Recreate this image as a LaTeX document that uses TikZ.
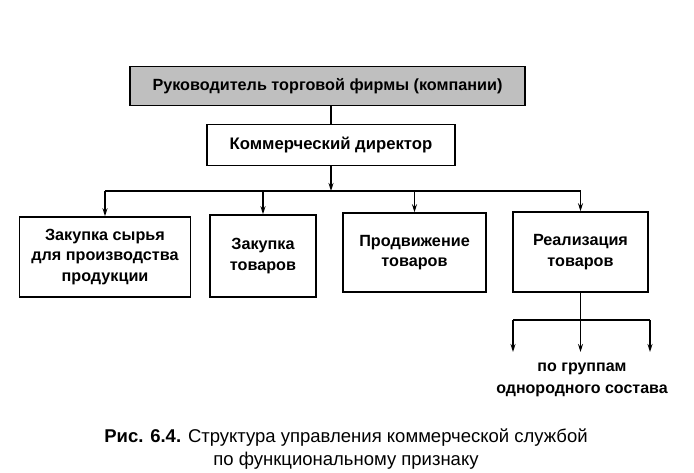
\documentclass[tikz,border=0pt]{standalone}
\usepackage{fontspec}
\setmainfont{Liberation Sans}
\usetikzlibrary{arrows.meta}
\begin{document}
\begin{tikzpicture}[x=1pt,y=-1pt,
  every node/.style={inner sep=0pt},
  boxbase/.style={draw=black,line width=1.5pt,align=center,font=\bfseries\fontsize{16.2}{20.5}\selectfont},
  topbox/.style={boxbase,fill=gray!50,minimum width=395pt,minimum height=39pt,font=\bfseries\fontsize{16.2}{19}\selectfont},
  dirbox/.style={boxbase,fill=white,minimum width=248pt,minimum height=41pt,font=\bfseries\fontsize{16.7}{19}\selectfont},
  unitbox/.style={boxbase,fill=white},
  conn/.style={line width=1.3pt},
  arr/.style={conn,-{Stealth[length=8pt,width=5pt]}},
  grouptext/.style={align=center,font=\bfseries\fontsize{16}{22}\selectfont},
  captext/.style={align=center,font=\fontsize{18.5}{23}\selectfont}
]
\useasboundingbox (0,0) rectangle (694,472);
\node[topbox] (top) at (327.5,86) {Руководитель торговой фирмы (компании)};
\node[dirbox] (dir) at (331,145) {Коммерческий директор};
\node[unitbox,minimum width=171pt,minimum height=80pt] (b1) at (105,257) {Закупка сырья\\для производства\\продукции};
\node[unitbox,minimum width=106pt,minimum height=82pt] (b2) at (263,256) {Закупка\\товаров};
\node[unitbox,minimum width=143pt,minimum height=79pt] (b3) at (414.5,252.5) {Продвижение\\товаров};
\node[unitbox,minimum width=135pt,minimum height=80pt] (b4) at (580.5,252) {Реализация\\товаров};
\coordinate (hl) at (105,191);
\coordinate (hr) at (580.5,191);
\coordinate (gl) at (513,320);
\coordinate (gr) at (650,320);
\coordinate (gm) at (580.5,320);
\coordinate (tl) at (513,352);
\coordinate (tm) at (580.5,352);
\coordinate (tr) at (650,352);
\node[grouptext] (grp) at (582,380) {по группам\\однородного состава};
\node[captext] (cap) at (346,449) {\textbf{Рис. 6.4.} Структура управления коммерческой службой\\по функциональному признаку};
\draw[conn] (top.south -| dir.north) -- (dir.north);
\draw[conn] (hl) -- (hr);
\draw[arr] (dir.south) -- (dir.south |- hl);
\draw[arr] (hl) -- (b1.north);
\draw[arr] (b2.north |- hl) -- (b2.north);
\draw[arr] (b3.north |- hl) -- (b3.north);
\draw[arr] (hr) -- (b4.north);
\draw[conn] (b4.south) -- (gm);
\draw[conn] (gl) -- (gr);
\draw[arr] (gl) -- (tl);
\draw[arr] (gm) -- (tm);
\draw[arr] (gr) -- (tr);
\end{tikzpicture}
\end{document}
